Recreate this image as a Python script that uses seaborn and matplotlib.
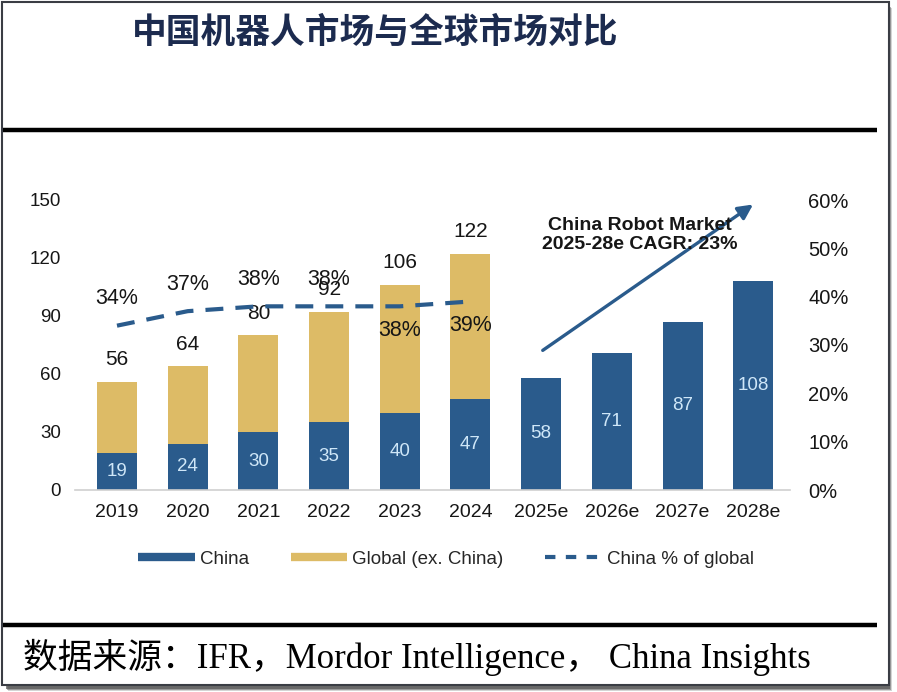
import numpy as np
import pandas as pd
import matplotlib
matplotlib.use("Agg")
import matplotlib.pyplot as plt
from matplotlib.patches import Rectangle
from matplotlib.lines import Line2D
import seaborn as sns

# data
years = ["2019", "2020", "2021", "2022", "2023", "2024", "2025e", "2026e", "2027e", "2028e"]
china = [19, 24, 30, 35, 40, 47, 58, 71, 87, 108]
total = [56, 64, 80, 92, 106, 122, None, None, None, None]
share = [0.34, 0.37, 0.38, 0.38, 0.38, 0.39]
share_labels = ["34%", "37%", "38%", "38%", "38%", "39%"]
left_ticks = [0, 30, 60, 90, 120, 150]
right_ticks = [0, 0.1, 0.2, 0.3, 0.4, 0.5, 0.6]

title = "中国机器人市场与全球市场对比"
source = "数据来源：IFR，Mordor Intelligence， China Insights"
cagr_text = "China Robot Market\n2025-28e CAGR: 23%"

blue = "#2A5B8C"
gold = "#DDBB66"
light = "#CFE7F8"
ink = "#161616"

sns.set_style("white")
plt.rcParams["font.family"] = ["Liberation Sans", "DejaVu Sans"]

df = pd.DataFrame({"year": years, "china": china, "total": total})

W, H = 897, 692
fig = plt.figure(figsize=(W / 100, H / 100), dpi=100)

# frame with drop shadow (kept behind the axes)
for i, a in enumerate([0.25, 0.45, 0.7]):
    fig.patches.append(Rectangle(((8 - i) / W, (1 + i) / H), 884 / W, 683 / H,
                                 transform=fig.transFigure, facecolor="#555555",
                                 edgecolor="none", alpha=a, zorder=-3))
fig.patches.append(Rectangle((2 / W, 7 / H), 887 / W, 683 / H, transform=fig.transFigure,
                             facecolor="white", edgecolor="#3a3d44", lw=1.5, zorder=-2))

# header / footer rules
fig.add_artist(Line2D([3 / W, 877 / W], [1 - 130 / H, 1 - 130 / H], color="black",
                      lw=3.2, solid_capstyle="butt"))
fig.add_artist(Line2D([3 / W, 877 / W], [1 - 625 / H, 1 - 625 / H], color="black",
                      lw=3.2, solid_capstyle="butt"))

fig.text(375 / W, 1 - 32 / H, title, ha="center", va="center", fontsize=25,
         weight="bold", color="#1c2b4f", family=["Noto Sans CJK SC"])
fig.text(23 / W, 1 - 657 / H, source, ha="left", va="center", fontsize=25,
         color="black", family=["Liberation Serif", "Noto Sans CJK SC"])

ax = fig.add_axes([75 / W, 1 - 490 / H, 715 / W, 290 / H])
bw = 0.566
sns.barplot(data=df, x="year", y="total", order=years, color=gold, width=bw,
            saturation=1, errorbar=None, linewidth=0, ax=ax)
sns.barplot(data=df, x="year", y="china", order=years, color=blue, width=bw,
            saturation=1, errorbar=None, linewidth=0, ax=ax)

ax2 = ax.twinx()
sns.lineplot(x=np.arange(len(share)), y=share, ax=ax2, color=blue, lw=3,
             linestyle=(0, (4.3, 2.9)))

ax.set_xlim(-0.594, 9.52)
ax.set_ylim(0, 150)
ax2.set_ylim(0, 0.6)
ax.set_yticks(left_ticks)
ax.set_yticklabels([str(t) for t in left_ticks])
ax2.set_yticks(right_ticks)
ax2.set_yticklabels([f"{int(round(t * 100))}%" for t in right_ticks])
for a in (ax, ax2):
    a.set_xlabel("")
    a.set_ylabel("")
    for s in a.spines.values():
        s.set_visible(False)
ax.spines["bottom"].set_visible(True)
ax.spines["bottom"].set_color("#cfcfcf")
ax.spines["bottom"].set_linewidth(1.2)
ax.tick_params(axis="x", length=0, pad=10, labelsize=14, colors=ink)
ax.tick_params(axis="y", length=0, pad=10, labelsize=13.5, colors=ink)
ax2.tick_params(axis="y", length=0, pad=13, labelsize=14.5, colors=ink)
ax.set_facecolor("none")
ax2.set_facecolor("none")

# value labels
for i, v in enumerate(china):
    ax.text(i, v / 2, str(v), ha="center", va="center", fontsize=13.5, color=light)
for i, v in enumerate(total):
    if v is not None:
        ax.annotate(str(v), (i, v), xytext=(0, 16), textcoords="offset points",
                    ha="center", va="center", fontsize=15, color=ink)
for i, (s, lab) in enumerate(zip(share, share_labels)):
    dy = 19.5 if i < 4 else -17.5
    ax2.annotate(lab, (i, s), xytext=(0, dy), textcoords="offset points",
                 ha="center", va="center", fontsize=15.5, color=ink)

# CAGR arrow and note
ax.annotate("", xy=(9.03, 148.5), xytext=(5.99, 71.4),
            arrowprops=dict(arrowstyle="-|>", color=blue, lw=2.4, mutation_scale=22),
            annotation_clip=False)
ax.text(7.4, 132, cagr_text, ha="center", va="center", fontsize=14,
        weight="bold", color=ink, linespacing=1.15)

handles = [Line2D([], [], color=blue, lw=6, solid_capstyle="butt"),
           Line2D([], [], color=gold, lw=6, solid_capstyle="butt"),
           Line2D([], [], color=blue, lw=3, linestyle=(0, (2.5, 2.5)))]
fig.legend(handles, ["China", "Global (ex. China)", "China % of global"],
           loc="center", bbox_to_anchor=(446 / W, 1 - 559 / H), ncol=3,
           frameon=False, fontsize=13.5, handlelength=3.0, handletextpad=0.3,
           columnspacing=2.2)

fig.savefig("out.png", dpi=100)
